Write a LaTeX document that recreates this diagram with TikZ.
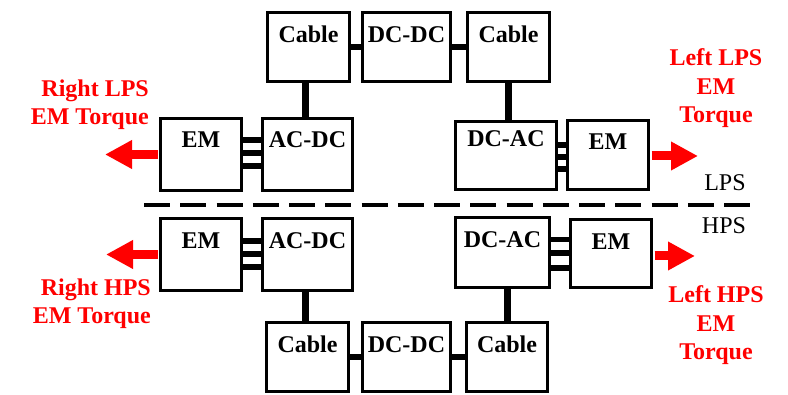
\documentclass[tikz,border=0pt]{standalone}
\usepackage{fontspec}
\setmainfont{Liberation Serif}
\usetikzlibrary{arrows.meta}
\begin{document}
\begin{tikzpicture}[x=1pt,y=-1pt,
  blk/.style={draw=black, line width=3pt, inner sep=0pt, font=\fontsize{24}{28}\selectfont\bfseries, anchor=center},
  bus/.style={line width=7pt},
  link/.style={line width=6pt},
  phase/.style={line width=5.5pt},
  torque/.style={draw=red, line width=9pt, -{Triangle[length=27pt,width=27pt]}},
  tlabel/.style={text=red, font=\fontsize{24}{28.5}\selectfont\bfseries, inner sep=0pt},
  sys/.style={font=\fontsize{24}{28}\selectfont, inner sep=0pt},
  sep/.style={line width=3.5pt, dash pattern=on 26pt off 10.25pt}]
\useasboundingbox (0,0) rectangle (788,395);

% upper (LPS) row
\node[blk, minimum width=82pt, minimum height=69pt, text height=30.5pt, text depth=38.5pt] (c1) at (308.5,47) {Cable};
\node[blk, minimum width=88pt, minimum height=69pt, text height=30.5pt, text depth=38.5pt] (dd1) at (406.5,47) {DC-DC};
\node[blk, minimum width=82pt, minimum height=69pt, text height=30.5pt, text depth=38.5pt] (c2) at (508.5,47) {Cable};
\node[blk, minimum width=81pt, minimum height=72pt, text height=29.5pt, text depth=42.5pt] (em1) at (201,154.5) {EM};
\node[blk, minimum width=90pt, minimum height=72pt, text height=29.5pt, text depth=42.5pt] (ad1) at (307.5,154.5) {AC-DC};
\node[blk, minimum width=101pt, minimum height=68pt, text height=25.5pt, text depth=42.5pt] (da1) at (506,155.5) {DC-AC};
\node[blk, minimum width=81pt, minimum height=69pt, text height=29.5pt, text depth=39.5pt] (em2) at (608,155) {EM};

% lower (HPS) row
\node[blk, minimum width=81pt, minimum height=72pt, text height=30.5pt, text depth=41.5pt] (em3) at (201,254.5) {EM};
\node[blk, minimum width=90pt, minimum height=72pt, text height=30.5pt, text depth=41.5pt] (ad3) at (307.5,254.5) {AC-DC};
\node[blk, minimum width=94pt, minimum height=70pt, text height=30.5pt, text depth=39.5pt] (da3) at (502.5,252.5) {DC-AC};
\node[blk, minimum width=81pt, minimum height=68pt, text height=30.5pt, text depth=37.5pt] (em4) at (611,253.5) {EM};
\node[blk, minimum width=82pt, minimum height=69pt, text height=30.5pt, text depth=38.5pt] (c3) at (307.5,357) {Cable};
\node[blk, minimum width=88pt, minimum height=69pt, text height=30.5pt, text depth=38.5pt] (dd3) at (406.5,357) {DC-DC};
\node[blk, minimum width=81pt, minimum height=69pt, text height=30.5pt, text depth=38.5pt] (c4) at (507,357) {Cable};

% DC buses
\coordinate (v1) at ([xshift=-3.5pt]c1.south);
\draw[bus] (v1) -- (v1 |- ad1.north);
\draw[bus] (c2.south) -- (c2.south |- da1.north);
\coordinate (v3) at ([xshift=-2.5pt]ad3.south);
\draw[bus] (v3) -- (v3 |- c3.north);
\draw[bus] (c4.north) -- (c4.north |- da3.south);
\draw[link] (c1.east) -- (dd1.west);
\draw[link] (dd1.east) -- (c2.west);
\draw[link] (c3.east) -- (dd3.west);
\draw[link] (dd3.east) -- (c4.west);

% three-phase links
\foreach \s in {-14.5,-1.5,11.5} {
  \path (em1.east) ++(0,\s) coordinate (p);
  \draw[phase] (p) -- (p -| ad1.west);
}
\foreach \s in {-10.5,1.5,13.5} {
  \path (da1.east) ++(0,\s) coordinate (p);
  \draw[phase] (p) -- (p -| em2.west);
}
\foreach \s in {-13.5,-0.5,12.5} {
  \path (em3.east) ++(0,\s) coordinate (p);
  \draw[phase] (p) -- (p -| ad3.west);
}
\foreach \s in {-13,0.5,15.5} {
  \path (da3.east) ++(0,\s) coordinate (p);
  \draw[phase] (p) -- (p -| em4.west);
}

% torque arrows
\path (em1.west) ++(-1.5,0) coordinate (a1);
\coordinate (t1) at (105,154.5);
\draw[torque] (a1) -- (t1);
\path (em2.east) ++(1.5,1) coordinate (a2);
\coordinate (t2) at (698,156);
\draw[torque] (a2) -- (t2);
\path (em3.west) ++(-1.5,0) coordinate (a3);
\coordinate (t3) at (106,254.5);
\draw[torque] (a3) -- (t3);
\path (em4.east) ++(1.5,2.5) coordinate (a4);
\coordinate (t4) at (695,256);
\draw[torque] (a4) -- (t4);

% labels
\node[tlabel, align=right, anchor=north east] (l1) at (149,79.5) {Right LPS\\EM Torque};
\node[tlabel, align=right, anchor=north east] (l3) at (151,278.5) {Right HPS\\EM Torque};
\node[tlabel, align=center, anchor=north] (l2) at (716,48.5) {Left LPS\\EM\\Torque};
\node[tlabel, align=center, anchor=north] (l4) at (716,285.5) {Left HPS\\EM\\Torque};
\node[sys, anchor=base] (lps) at (725,191) {LPS};
\node[sys, anchor=base] (hps) at (724,234) {HPS};

% separator
\coordinate (d1) at (144,205);
\coordinate (d2) at (750,205);
\draw[sep] (d1) -- (d2);
\end{tikzpicture}
\end{document}
